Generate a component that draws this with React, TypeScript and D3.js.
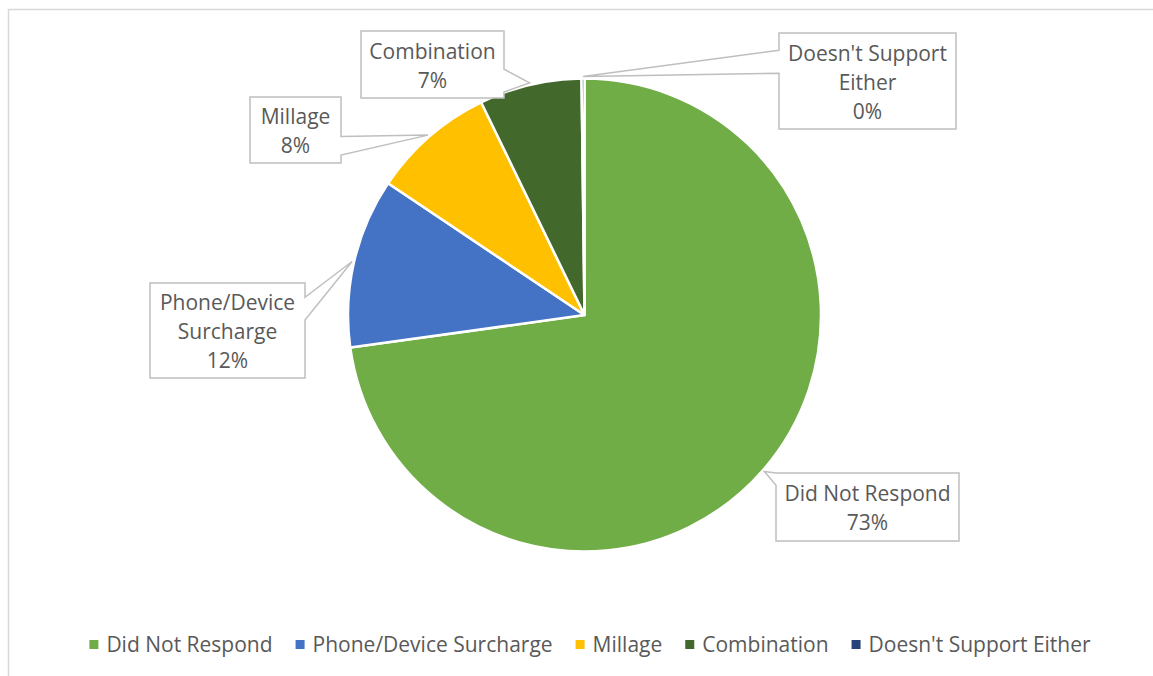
import React, { useEffect, useRef } from "react";
import * as d3 from "d3";

const categories = ["Did Not Respond", "Phone/Device Surcharge", "Millage", "Combination", "Doesn't Support Either"];
const values = [72.8, 11.6, 8.4, 7.0, 0.2];
const colors = ["#70AD47", "#4472C4", "#FFC000", "#43682B", "#264478"];
const labelLines = [["Did Not Respond"], ["Phone/Device", "Surcharge"], ["Millage"], ["Combination"], ["Doesn't Support", "Either"]];
// label box layout: [x0, y0, x1, y1], wedge side and base fractions
const labelBoxes = [
  [776, 473, 959, 541],
  [150, 283, 305, 378],
  [250, 97, 341, 163],
  [361, 31, 504, 98],
  [779, 33, 956, 129],
];
const wedgeSides = ["left", "right", "right", "right", "left"];
const wedgeBase = [[0, 0.18], [0.15, 0.39], [0.6, 0.88], [0.57, 0.91], [0.18, 0.42]];

const W = 1153, H = 676;
const FONT = "'Open Sans', sans-serif";
const TEXT = "#595959";

export default function App() {
  const ref = useRef<SVGSVGElement>(null);
  useEffect(() => {
    const svg = d3.select(ref.current);
    svg.selectAll("*").remove();
    svg.append("rect").attr("x", 0).attr("y", 0).attr("width", W).attr("height", H).attr("fill", "#fff");
    svg.append("rect").attr("x", 8.5).attr("y", 9.5).attr("width", W + 20).attr("height", H + 20)
      .attr("fill", "none").attr("stroke", "#d9d9d9").attr("stroke-width", 1.5);

    const cx = 584.5, cy = 315, r = 236.5;
    const total = d3.sum(values);
    const pie = d3.pie<number>().sort(null).value((d) => d);
    const arcs = pie(values);
    const arc = d3.arc<d3.PieArcDatum<number>>().innerRadius(0).outerRadius(r);
    const g = svg.append("g").attr("transform", `translate(${cx},${cy})`);
    g.selectAll("path").data(arcs).enter().append("path")
      .attr("d", arc as any)
      .attr("fill", (_, i) => colors[i])
      .attr("stroke", "#fff").attr("stroke-width", 2.5).attr("stroke-linejoin", "round");

    // callout labels
    const lg = svg.append("g");
    arcs.forEach((a, i) => {
      const mid = (a.startAngle + a.endAngle) / 2;
      const tr = r + 2;
      const tx = cx + Math.sin(mid) * tr;
      const ty = cy - Math.cos(mid) * tr;
      const [x0, y0, x1, y1] = labelBoxes[i];
      const h = y1 - y0;
      const [f1, f2] = wedgeBase[i];
      const b1 = y0 + f1 * h, b2 = y0 + f2 * h;
      let p: [number, number][];
      if (wedgeSides[i] === "right") {
        p = [[x0, y0], [x1, y0], [x1, b1], [tx, ty], [x1, b2], [x1, y1], [x0, y1]];
      } else {
        p = [[x0, y0], [x1, y0], [x1, y1], [x0, y1], [x0, b2], [tx, ty], [x0, b1]];
      }
      lg.append("path").attr("d", "M" + p.map((q) => q.join(",")).join("L") + "Z")
        .attr("fill", "#fff").attr("stroke", "#bfbfbf").attr("stroke-width", 1.5).attr("stroke-linejoin", "miter");
      const lines = [...labelLines[i], `${Math.round((values[i] / total) * 100)}%`];
      const mcx = (x0 + x1) / 2, mcy = (y0 + y1) / 2;
      lines.forEach((t, k) => {
        lg.append("text").attr("x", mcx).attr("y", mcy + (k - (lines.length - 1) / 2) * 29 + 8.5)
          .attr("text-anchor", "middle").attr("font-family", FONT).attr("font-size", 21)
          .attr("fill", TEXT).text(t);
      });
    });

    // legend
    const leg = svg.append("g");
    const items = categories.map((c, i) => {
      const gi = leg.append("g");
      gi.append("rect").attr("x", 0).attr("y", -11.5).attr("width", 9).attr("height", 9).attr("fill", colors[i]);
      const t = gi.append("text").attr("x", 17).attr("y", 0).attr("font-family", FONT).attr("font-size", 21)
        .attr("fill", TEXT).text(c);
      const w = (t.node() as SVGTextElement).getComputedTextLength();
      return { gi, w: 17 + w };
    });
    const gap = 23;
    const totalW = d3.sum(items, (d) => d.w) + gap * (items.length - 1);
    let x = 590 - totalW / 2;
    items.forEach((it) => {
      it.gi.attr("transform", `translate(${x},651.5)`);
      x += it.w + gap;
    });
  }, []);
  return (
    <svg ref={ref} width={W} height={H} style={{ position: "absolute", left: 0, top: 0, display: "block" }} />
  );
}
